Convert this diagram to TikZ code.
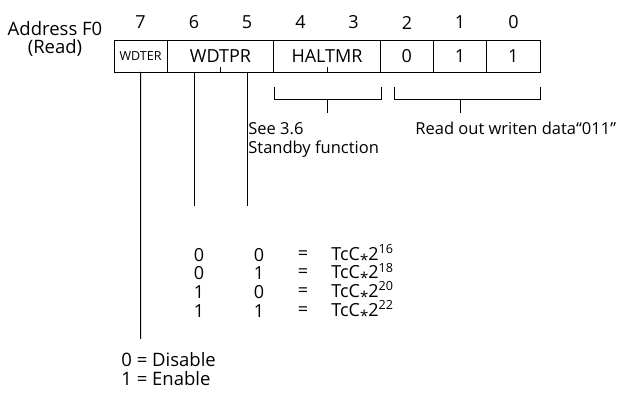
\documentclass[tikz,border=0pt]{standalone}
\usepackage{fontspec}
\setmainfont{Open Sans}
\usetikzlibrary{positioning, calc}

\newcommand{\tcstar}{{\raisebox{-0.28em}{\fontsize{15}{15}\selectfont *}}}

\begin{document}
\begin{tikzpicture}[x=1pt, y=1pt, line width=0.8pt, font=\fontsize{18}{18}\selectfont]
  \tikzstyle{cell}=[draw, outer sep=0pt, inner sep=0pt, minimum height=32pt, anchor=north west]
  \tikzstyle{onebit}=[cell, minimum width=53.25pt]
  \tikzstyle{twobit}=[cell, minimum width=106.5pt]
  \tikzstyle{bitnum}=[inner sep=0pt]
  \tikzstyle{note}=[inner sep=0pt, align=left, font=\fontsize{16.5}{19}\selectfont]
  \tikzstyle{tab}=[inner sep=0pt]

  \useasboundingbox (0,0) rectangle (619,394);

  % address label
  \node[align=center, inner sep=0pt, font=\fontsize{18.5}{17.5}\selectfont] (addr) at (55,355) {Address F0\\(Read)};

  % register cells
  \node[onebit, font=\fontsize{12.5}{12.5}\selectfont] (wdter) at (114,354) {WDTER};
  \node[twobit, right=0pt of wdter] (wdtpr) {WDTPR};
  \node[twobit, right=0pt of wdtpr] (haltmr) {HALTMR};
  \node[onebit, right=0pt of haltmr] (d2) {0};
  \node[onebit, right=0pt of d2] (d1) {1};
  \node[onebit, right=0pt of d1] (d0) {1};

  % split ticks
  \draw (wdtpr.south) -- ++(0,5);
  \draw (haltmr.south) -- ++(0,5);

  % bit numbers
  \node[bitnum] (n7) at (140.6,371.5) {7};
  \node[bitnum] (n6) at (193.9,371.5) {6};
  \node[bitnum] (n5) at (247.1,371.5) {5};
  \node[bitnum] (n4) at (300.4,371.5) {4};
  \node[bitnum] (n3) at (353.6,371.5) {3};
  \node[bitnum] (n2) at (406.9,371.5) {2};
  \node[bitnum] (n1) at (460.1,371.5) {1};
  \node[bitnum] (n0) at (513.4,371.5) {0};

  % leader lines
  \coordinate (w7) at (wdter.south);
  \coordinate (w6) at (193.9,322);
  \coordinate (w5) at (247.1,322);
  \coordinate (e7) at (140.6,55);
  \coordinate (e6) at (193.9,188);
  \coordinate (e5) at (247.1,188);
  \draw (w7) -- (e7);
  \draw (w6) -- (e6);
  \draw (w5) -- (e5);

  % brackets
  \draw (274.5,307) -- ++(0,-12) -- ++(106.5,0) -- ++(0,12);
  \draw (haltmr.center |- 0,295) -- ++(0,-14);
  \draw (394,307) -- ++(0,-12) -- ++(146,0) -- ++(0,12);
  \draw (n1 |- 0,295) -- ++(0,-14);

  % notes
  \node[note, anchor=north west] (see) at (248,272) {See 3.6\\Standby function};
  \node[note, anchor=west] (readout) at (415,265.5) {Read out writen data“011”};

  % WDTPR table
  \node[tab] (r1a) at (199,139) {0};
  \node[tab] (r1b) at (259,139) {0};
  \node[tab] (r1e) at (303,139) {=};
  \node[tab, anchor=west] (r1v) at (331,139) {TcC\tcstar2\textsuperscript{16}};
  \node[tab] (r2a) at (199,120.5) {0};
  \node[tab] (r2b) at (259,120.5) {1};
  \node[tab] (r2e) at (303,120.5) {=};
  \node[tab, anchor=west] (r2v) at (331,120.5) {TcC\tcstar2\textsuperscript{18}};
  \node[tab] (r3a) at (199,102) {1};
  \node[tab] (r3b) at (259,102) {0};
  \node[tab] (r3e) at (303,102) {=};
  \node[tab, anchor=west] (r3v) at (331,102) {TcC\tcstar2\textsuperscript{20}};
  \node[tab] (r4a) at (199,83) {1};
  \node[tab] (r4b) at (259,83) {1};
  \node[tab] (r4e) at (303,83) {=};
  \node[tab, anchor=west] (r4v) at (331,83) {TcC\tcstar2\textsuperscript{22}};

  % WDTER values
  \node[tab, anchor=west, font=\fontsize{18.5}{18.5}\selectfont] (dis) at (121,34) {0 = Disable};
  \node[tab, anchor=west, font=\fontsize{18.5}{18.5}\selectfont] (en) at (121,15) {1 = Enable};
\end{tikzpicture}
\end{document}
